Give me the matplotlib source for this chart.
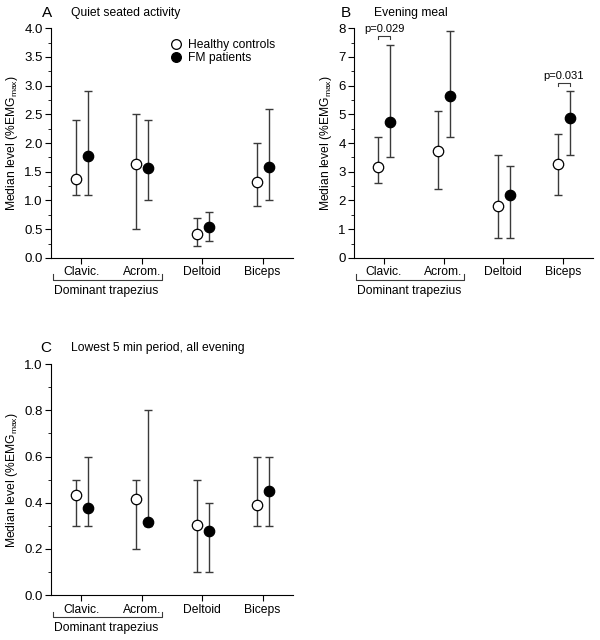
import matplotlib.pyplot as plt
from matplotlib.ticker import MultipleLocator
from matplotlib.lines import Line2D

plt.rcParams['font.family'] = ['Liberation Sans', 'DejaVu Sans']
plt.rcParams['font.size'] = 9

# ---- data ----
categories = ["Clavic.", "Acrom.", "Deltoid", "Biceps"]

# A: quiet seated activity
a_hc_med = [1.37, 1.63, 0.42, 1.33]
a_hc_lo = [1.1, 0.5, 0.2, 0.9]
a_hc_hi = [2.4, 2.5, 0.7, 2.0]
a_fm_med = [1.78, 1.57, 0.53, 1.58]
a_fm_lo = [1.1, 1.0, 0.3, 1.0]
a_fm_hi = [2.9, 2.4, 0.8, 2.6]

# B: evening meal
b_hc_med = [3.15, 3.72, 1.80, 3.28]
b_hc_lo = [2.6, 2.4, 0.7, 2.2]
b_hc_hi = [4.2, 5.1, 3.6, 4.3]
b_fm_med = [4.72, 5.65, 2.20, 4.87]
b_fm_lo = [3.5, 4.2, 0.7, 3.6]
b_fm_hi = [7.4, 7.9, 3.2, 5.8]

# C: lowest 5 min period
c_hc_med = [0.432, 0.418, 0.305, 0.392]
c_hc_lo = [0.3, 0.2, 0.1, 0.3]
c_hc_hi = [0.5, 0.5, 0.5, 0.6]
c_fm_med = [0.376, 0.318, 0.280, 0.453]
c_fm_lo = [0.3, 0.3, 0.1, 0.3]
c_fm_hi = [0.6, 0.8, 0.4, 0.6]

# p-value brackets in B: (category index, bracket y, label)
b_pvals = [(0, 7.72, "p=0.029"), (3, 6.1, "p=0.031")]

HC_OFF = -0.09
FM_OFF = 0.11
FS = 8.7
YLABEL = "Median level (%EMG$_{\\mathregular{max}}$)"


def panel(ax, hc, fm, ymax, major, minor, fmt, letter, title, lx):
    xs = range(1, len(categories) + 1)
    for (med, lo, hi), off, face in [(hc, HC_OFF, "white"), (fm, FM_OFF, "black")]:
        x = [i + off for i in xs]
        yerr = [[m - l for m, l in zip(med, lo)], [h - m for m, h in zip(med, hi)]]
        ax.errorbar(x, med, yerr=yerr, fmt="none", ecolor="#3a3a3a",
                    elinewidth=1.0, capsize=3, capthick=1.0, zorder=2)
        ax.plot(x, med, "o", ms=7.5, mfc=face, mec="black", mew=0.9, zorder=3)

    ax.set_xlim(0.5, 4.5)
    ax.set_ylim(0, ymax)
    ax.set_xticks(list(xs))
    ax.set_xticklabels(categories, fontsize=FS)
    ax.yaxis.set_major_locator(MultipleLocator(major))
    ax.yaxis.set_minor_locator(MultipleLocator(minor))
    ax.yaxis.set_major_formatter(plt.FormatStrFormatter(fmt))
    ax.tick_params(axis="y", which="major", direction="out", length=4, labelsize=9.5, pad=2)
    ax.tick_params(axis="y", which="minor", direction="out", length=2)
    ax.tick_params(axis="x", direction="out", length=4, pad=2)
    for s in ["top", "right"]:
        ax.spines[s].set_visible(False)
    ax.set_ylabel(YLABEL, fontsize=FS, labelpad=3)

    # "Dominant trapezius" bracket
    tr = ax.get_xaxis_transform()
    ax.plot([0.53, 0.53, 2.34, 2.34], [-0.072, -0.094, -0.094, -0.072],
            color="#3a3a3a", lw=0.8, transform=tr, clip_on=False)
    ax.text(1.42, -0.143, "Dominant trapezius", transform=tr,
            ha="center", va="center", fontsize=FS)

    ax.text(lx, 1.068, letter, transform=ax.transAxes, fontsize=11,
            ha="center", va="center")
    ax.text(0.082, 1.068, title, transform=ax.transAxes, fontsize=FS,
            ha="left", va="center")


fig = plt.figure(figsize=(6, 6.4), dpi=100)
axA = fig.add_axes([0.085, 0.597, 0.403, 0.359])
axB = fig.add_axes([0.59, 0.597, 0.398, 0.359])
axC = fig.add_axes([0.085, 0.070, 0.403, 0.361])

panel(axA, (a_hc_med, a_hc_lo, a_hc_hi), (a_fm_med, a_fm_lo, a_fm_hi),
      4.0, 0.5, 0.25, "%.1f", "A", "Quiet seated activity", -0.017)
panel(axB, (b_hc_med, b_hc_lo, b_hc_hi), (b_fm_med, b_fm_lo, b_fm_hi),
      8, 1, 0.5, "%d", "B", "Evening meal", -0.033)
panel(axC, (c_hc_med, c_hc_lo, c_hc_hi), (c_fm_med, c_fm_lo, c_fm_hi),
      1.0, 0.2, 0.1, "%.1f", "C", "Lowest 5 min period, all evening", -0.02)

# p-value brackets
for idx, yb, lab in b_pvals:
    x0, x1 = idx + 1 + HC_OFF, idx + 1 + FM_OFF
    axB.plot([x0, x0, x1, x1], [yb - 0.1, yb, yb, yb - 0.1], color="#3a3a3a", lw=0.8)
    axB.text((x0 + x1) / 2, yb + 0.25, lab, ha="center", va="center", fontsize=8)

# legend in A
handles = [Line2D([], [], ls="none", marker="o", ms=7, mfc="white", mec="black", mew=0.9),
           Line2D([], [], ls="none", marker="o", ms=7, mfc="black", mec="black", mew=0.9)]
axA.legend(handles, ["Healthy controls", "FM patients"], loc="upper left",
           bbox_to_anchor=(0.44, 1.0), frameon=False, fontsize=FS,
           handletextpad=0.4, labelspacing=0.12, handlelength=1.2)

fig.savefig("out.png", dpi=100)
